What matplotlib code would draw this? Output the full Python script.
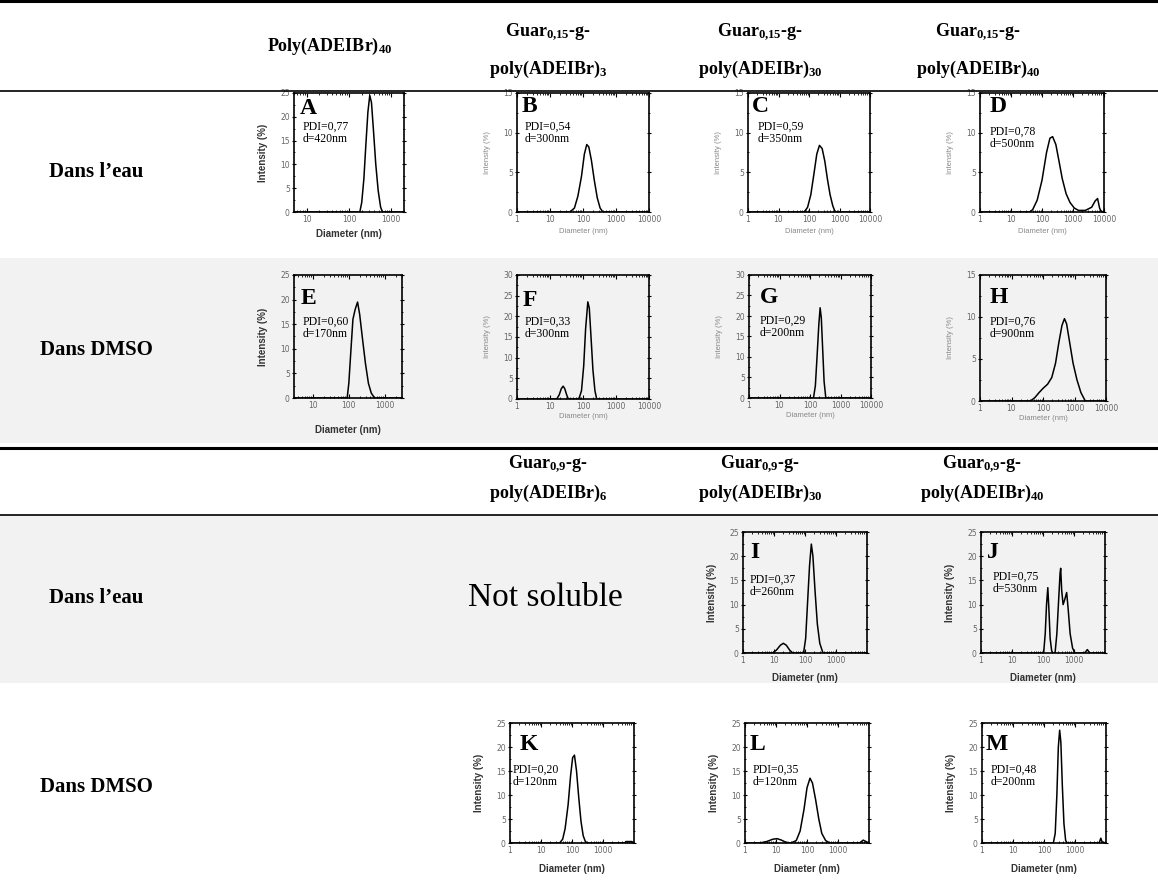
import matplotlib
matplotlib.use("Agg")
import matplotlib.pyplot as plt
from matplotlib.patches import Rectangle
from matplotlib.lines import Line2D
from matplotlib.ticker import FixedLocator, LogLocator, NullFormatter, MultipleLocator

W, H = 1158, 880

plt.rcParams['mathtext.fontset'] = 'custom'
plt.rcParams['mathtext.rm'] = 'Liberation Serif:bold'
plt.rcParams['mathtext.it'] = 'Liberation Serif:bold'
plt.rcParams['mathtext.bf'] = 'Liberation Serif:bold'

# ---- data (diameter in nm, intensity in %) ----
a_d = [5, 180, 200, 225, 250, 280, 310, 340, 380, 430, 490, 560, 620, 2000]
a_i = [0, 0, 2, 7, 14, 21, 24.5, 23, 17, 10, 4.5, 1, 0, 0]

b_d = [1, 40, 55, 70, 90, 110, 130, 150, 180, 220, 270, 330, 400, 10000]
b_i = [0, 0, 0.5, 2, 4.5, 7.3, 8.5, 8.2, 6.5, 4, 1.8, 0.5, 0, 0]

c_d = [1, 70, 90, 115, 145, 180, 220, 270, 330, 400, 490, 600, 720, 10000]
c_i = [0, 0, 0.6, 2.2, 4.8, 7.3, 8.4, 8, 6.4, 4.2, 2.2, 0.8, 0, 0]

d_d = [1, 40, 50, 70, 100, 140, 180, 220, 280, 350, 450, 600, 800, 1100, 1500,
       2500, 4000, 5200, 6200, 7200, 8000, 10000]
d_i = [0, 0, 0.3, 1.5, 4, 7.5, 9.3, 9.5, 8.5, 6.5, 4.2, 2.3, 1.2, 0.5, 0.2,
       0.2, 0.6, 1.4, 1.7, 0.5, 0.1, 0]

e_d = [3, 90, 100, 115, 130, 150, 175, 200, 240, 290, 350, 420, 520, 3000]
e_i = [0, 0, 3, 10, 16, 18, 19.5, 17, 12, 7, 3, 1, 0, 0]

f_d = [1, 16, 19, 22, 25, 28, 32, 36, 75, 90, 105, 120, 140, 155, 175, 200, 230, 260, 10000]
f_i = [0, 0, 1, 2.5, 3.1, 2.5, 1, 0, 0, 2, 8, 17, 23.5, 22, 15, 7, 2, 0, 0]

g_d = [1, 130, 150, 170, 195, 215, 235, 260, 290, 330, 10000]
g_i = [0, 0, 3, 10, 18, 22, 19.5, 12, 4, 0, 0]

h_d = [1, 40, 55, 75, 100, 140, 190, 250, 320, 400, 480, 560, 700, 900, 1200, 1600, 2200, 10000]
h_i = [0, 0, 0.4, 1, 1.5, 2, 2.8, 4.5, 7, 9, 9.8, 9.2, 7, 4.5, 2.5, 1, 0, 0]

i_d = [1, 9, 12, 16, 20, 25, 32, 40, 90, 105, 120, 140, 160, 180, 210, 250, 300, 380, 10000]
i_i = [0, 0, 0.6, 1.6, 2, 1.6, 0.6, 0, 0, 3, 10, 18, 22.5, 20, 13, 6, 2, 0, 0]

j_d = [1, 105, 118, 130, 143, 155, 170, 190, 205, 245, 280, 320, 355, 372, 400, 445,
       500, 580, 650, 750, 900, 1080, 2200, 2700, 3200, 10000]
j_i = [0, 0, 4, 10, 13.5, 9, 3, 0.5, 0, 0, 4, 11, 16.5, 17.5, 13, 10,
       11, 12.5, 9, 4, 1, 0, 0, 0.7, 0, 0]

k_d = [1, 40, 50, 60, 75, 90, 105, 120, 140, 165, 195, 230, 270, 320, 5000, 5500, 8500, 10000]
k_i = [0, 0, 0.8, 3, 8, 14, 17.8, 18.3, 15, 9.5, 4.5, 1.5, 0.3, 0, 0, 0.3, 0.3, 0]

l_d = [1, 3, 5, 8, 11, 15, 20, 30, 45, 60, 80, 100, 125, 150, 190, 240, 300, 400, 550,
       5000, 6500, 8000, 10000]
l_i = [0, 0, 0.3, 0.8, 0.9, 0.6, 0.2, 0, 0.5, 2.5, 7, 11.5, 13.5, 12.5, 9, 5, 2, 0.5, 0,
       0, 0.6, 0.3, 0]

m_d = [1, 200, 230, 260, 290, 320, 350, 390, 440, 500, 560, 6000, 6800, 7500, 10000]
m_i = [0, 0, 2, 10, 20, 23.5, 21, 12, 4, 0.5, 0, 0, 1, 0.2, 0]

letters = ['A', 'B', 'C', 'D', 'E', 'F', 'G', 'H', 'I', 'J', 'K', 'L', 'M']
pdi = ['0,77', '0,54', '0,59', '0,78', '0,60', '0,33', '0,29', '0,76',
       '0,37', '0,75', '0,20', '0,35', '0,48']
diam = ['420', '300', '350', '500', '170', '300', '200', '900',
        '260', '530', '120', '120', '200']
ymax = [25, 15, 15, 15, 25, 30, 30, 15, 25, 25, 25, 25, 25]

row_labels = ['Dans l\u2019eau', 'Dans DMSO', 'Dans l\u2019eau', 'Dans DMSO']
head1 = [r'Poly(ADEIBr)$_{40}$',
         r'Guar$_{0{,}15}$-g-' + '\n' + r'poly(ADEIBr)$_{3}$',
         r'Guar$_{0{,}15}$-g-' + '\n' + r'poly(ADEIBr)$_{30}$',
         r'Guar$_{0{,}15}$-g-' + '\n' + r'poly(ADEIBr)$_{40}$']
head2 = [r'Guar$_{0{,}9}$-g-' + '\n' + r'poly(ADEIBr)$_{6}$',
         r'Guar$_{0{,}9}$-g-' + '\n' + r'poly(ADEIBr)$_{30}$',
         r'Guar$_{0{,}9}$-g-' + '\n' + r'poly(ADEIBr)$_{40}$']

curves = [(a_d, a_i), (b_d, b_i), (c_d, c_i), (d_d, d_i), (e_d, e_i), (f_d, f_i),
          (g_d, g_i), (h_d, h_i), (i_d, i_i), (j_d, j_i), (k_d, k_i), (l_d, l_i), (m_d, m_i)]

# layout in pixels: (left, top, right, bottom), x-range, bold style, letter xy, text xy
boxes = [(294, 93, 404, 212), (517, 93, 649, 212), (748, 93, 870, 212), (980, 93, 1104, 212),
         (294, 275, 402, 398), (517, 275, 649, 399), (749, 275, 871, 398), (980, 275, 1106, 401),
         (743, 532, 867, 653), (981, 532, 1105, 653),
         (510, 723, 634, 843), (745, 723, 869, 843), (982, 723, 1106, 843)]
xlims = [(5, 2000)] + [(1, 10000)] * 3 + [(3, 3000)] + [(1, 10000)] * 8
bold = [True, False, False, False, True, False, False, False, True, True, True, True, True]
xlab_off = [22, 19, 19, 19, 32, 17, 17, 17, 25, 25, 26, 26, 26]
letter_xy = [(300, 108), (522, 106), (752, 106), (990, 106), (301, 298), (523, 300), (760, 297),
             (990, 297), (750, 553), (987, 553), (520, 745), (750, 745), (986, 745)]
text_xy = [(303, 127), (525, 127), (758, 127), (990, 132), (303, 322), (525, 322), (760, 321),
           (990, 322), (750, 580), (993, 577), (513, 770), (753, 770), (991, 770)]


def fx(x):
    return x / W


def fy(y):
    return 1 - y / H


fig = plt.figure(figsize=(W / 100, H / 100), dpi=100)
fig.patch.set_facecolor('white')

# grey rows
for top, bot in [(258, 443), (515, 683)]:
    fig.add_artist(Rectangle((0, fy(bot)), 1, (bot - top) / H, transform=fig.transFigure,
                             facecolor='#f2f2f2', edgecolor='none', zorder=-10))

# table rules
for y, lw in [(1.5, 2.2), (91, 1.2), (448, 2.2), (515, 1.2)]:
    fig.add_artist(Line2D([0, 1], [fy(y), fy(y)], transform=fig.transFigure,
                          color='black', linewidth=lw))

# header text
serif = 'Liberation Serif'
fig.text(fx(330), fy(46), head1[0], ha='center', va='center', fontsize=13,
         fontfamily=serif, fontweight='bold')
for xc, s in zip([548, 760, 978], head1[1:]):
    fig.text(fx(xc), fy(51), s, ha='center', va='center', fontsize=13,
             fontfamily=serif, fontweight='bold', linespacing=2.05)
for xc, s in zip([548, 760, 982], head2):
    fig.text(fx(xc), fy(479), s, ha='center', va='center', fontsize=13,
             fontfamily=serif, fontweight='bold', linespacing=1.5)

for y, s in zip([172, 350, 598, 787], row_labels):
    fig.text(fx(96), fy(y), s, ha='center', va='center', fontsize=15,
             fontfamily=serif, fontweight='bold')

fig.text(fx(545), fy(598), 'Not soluble', ha='center', va='center', fontsize=24,
         fontfamily=serif)

# DLS panels
for n in range(13):
    l, t, r, b = boxes[n]
    ax = fig.add_axes([fx(l), fy(b), (r - l) / W, (b - t) / H])
    ax.set_facecolor('none')
    d, inten = curves[n]
    ax.plot(d, inten, color='black', linewidth=1.1)
    ax.set_xscale('log')
    ax.set_xlim(*xlims[n])
    ax.set_ylim(0, ymax[n])

    lo, hi = xlims[n]
    if n >= 8:
        major = [1, 10, 100, 1000]
    else:
        major = [v for v in [1, 10, 100, 1000, 10000] if lo <= v <= hi]
    ax.xaxis.set_major_locator(FixedLocator(major))
    ax.set_xticklabels([str(v) for v in major])
    ax.xaxis.set_minor_locator(LogLocator(base=10, subs=range(2, 10), numticks=20))
    ax.xaxis.set_minor_formatter(NullFormatter())
    ax.yaxis.set_major_locator(MultipleLocator(5))
    ax.yaxis.set_minor_locator(MultipleLocator(2.5))

    ax.tick_params(axis='x', which='both', direction='in', top=True, labelsize=5.5,
                   labelcolor='#666', pad=2)
    ax.tick_params(axis='y', which='both', direction='inout', right=True, labelsize=5.5,
                   labelcolor='#666', pad=1.5)
    ax.tick_params(which='major', length=3, width=0.8)
    ax.tick_params(which='minor', length=1.6, width=0.6)
    for sp in ax.spines.values():
        sp.set_linewidth(1.2)

    if bold[n]:
        ax.set_ylabel('Intensity (%)', fontsize=7, fontweight='bold', color='#333',
                      fontfamily='Liberation Sans')
        ax.set_xlabel('Diameter (nm)', fontsize=7, fontweight='bold', color='#333',
                      fontfamily='Liberation Sans')
    else:
        ax.set_ylabel('Intensity (%)', fontsize=5.5, color='#888',
                      fontfamily='Liberation Sans')
        ax.set_xlabel('Diameter (nm)', fontsize=5.5, color='#888',
                      fontfamily='Liberation Sans')
    ax.xaxis.set_label_coords(0.5, -xlab_off[n] / (b - t))
    ax.xaxis.label.set_va('center')
    ax.yaxis.set_label_coords(-26 / (r - l), 0.5)

    lx, ly = letter_xy[n]
    fig.text(fx(lx), fy(ly), letters[n], ha='left', va='center', fontsize=17,
             fontfamily=serif, fontweight='bold')
    tx, ty = text_xy[n]
    fig.text(fx(tx), fy(ty), 'PDI=' + pdi[n], ha='left', va='center', fontsize=8.5,
             fontfamily=serif)
    fig.text(fx(tx), fy(ty + 12), 'd=' + diam[n] + 'nm', ha='left', va='center',
             fontsize=8.5, fontfamily=serif)

fig.savefig('out.png', dpi=100)
